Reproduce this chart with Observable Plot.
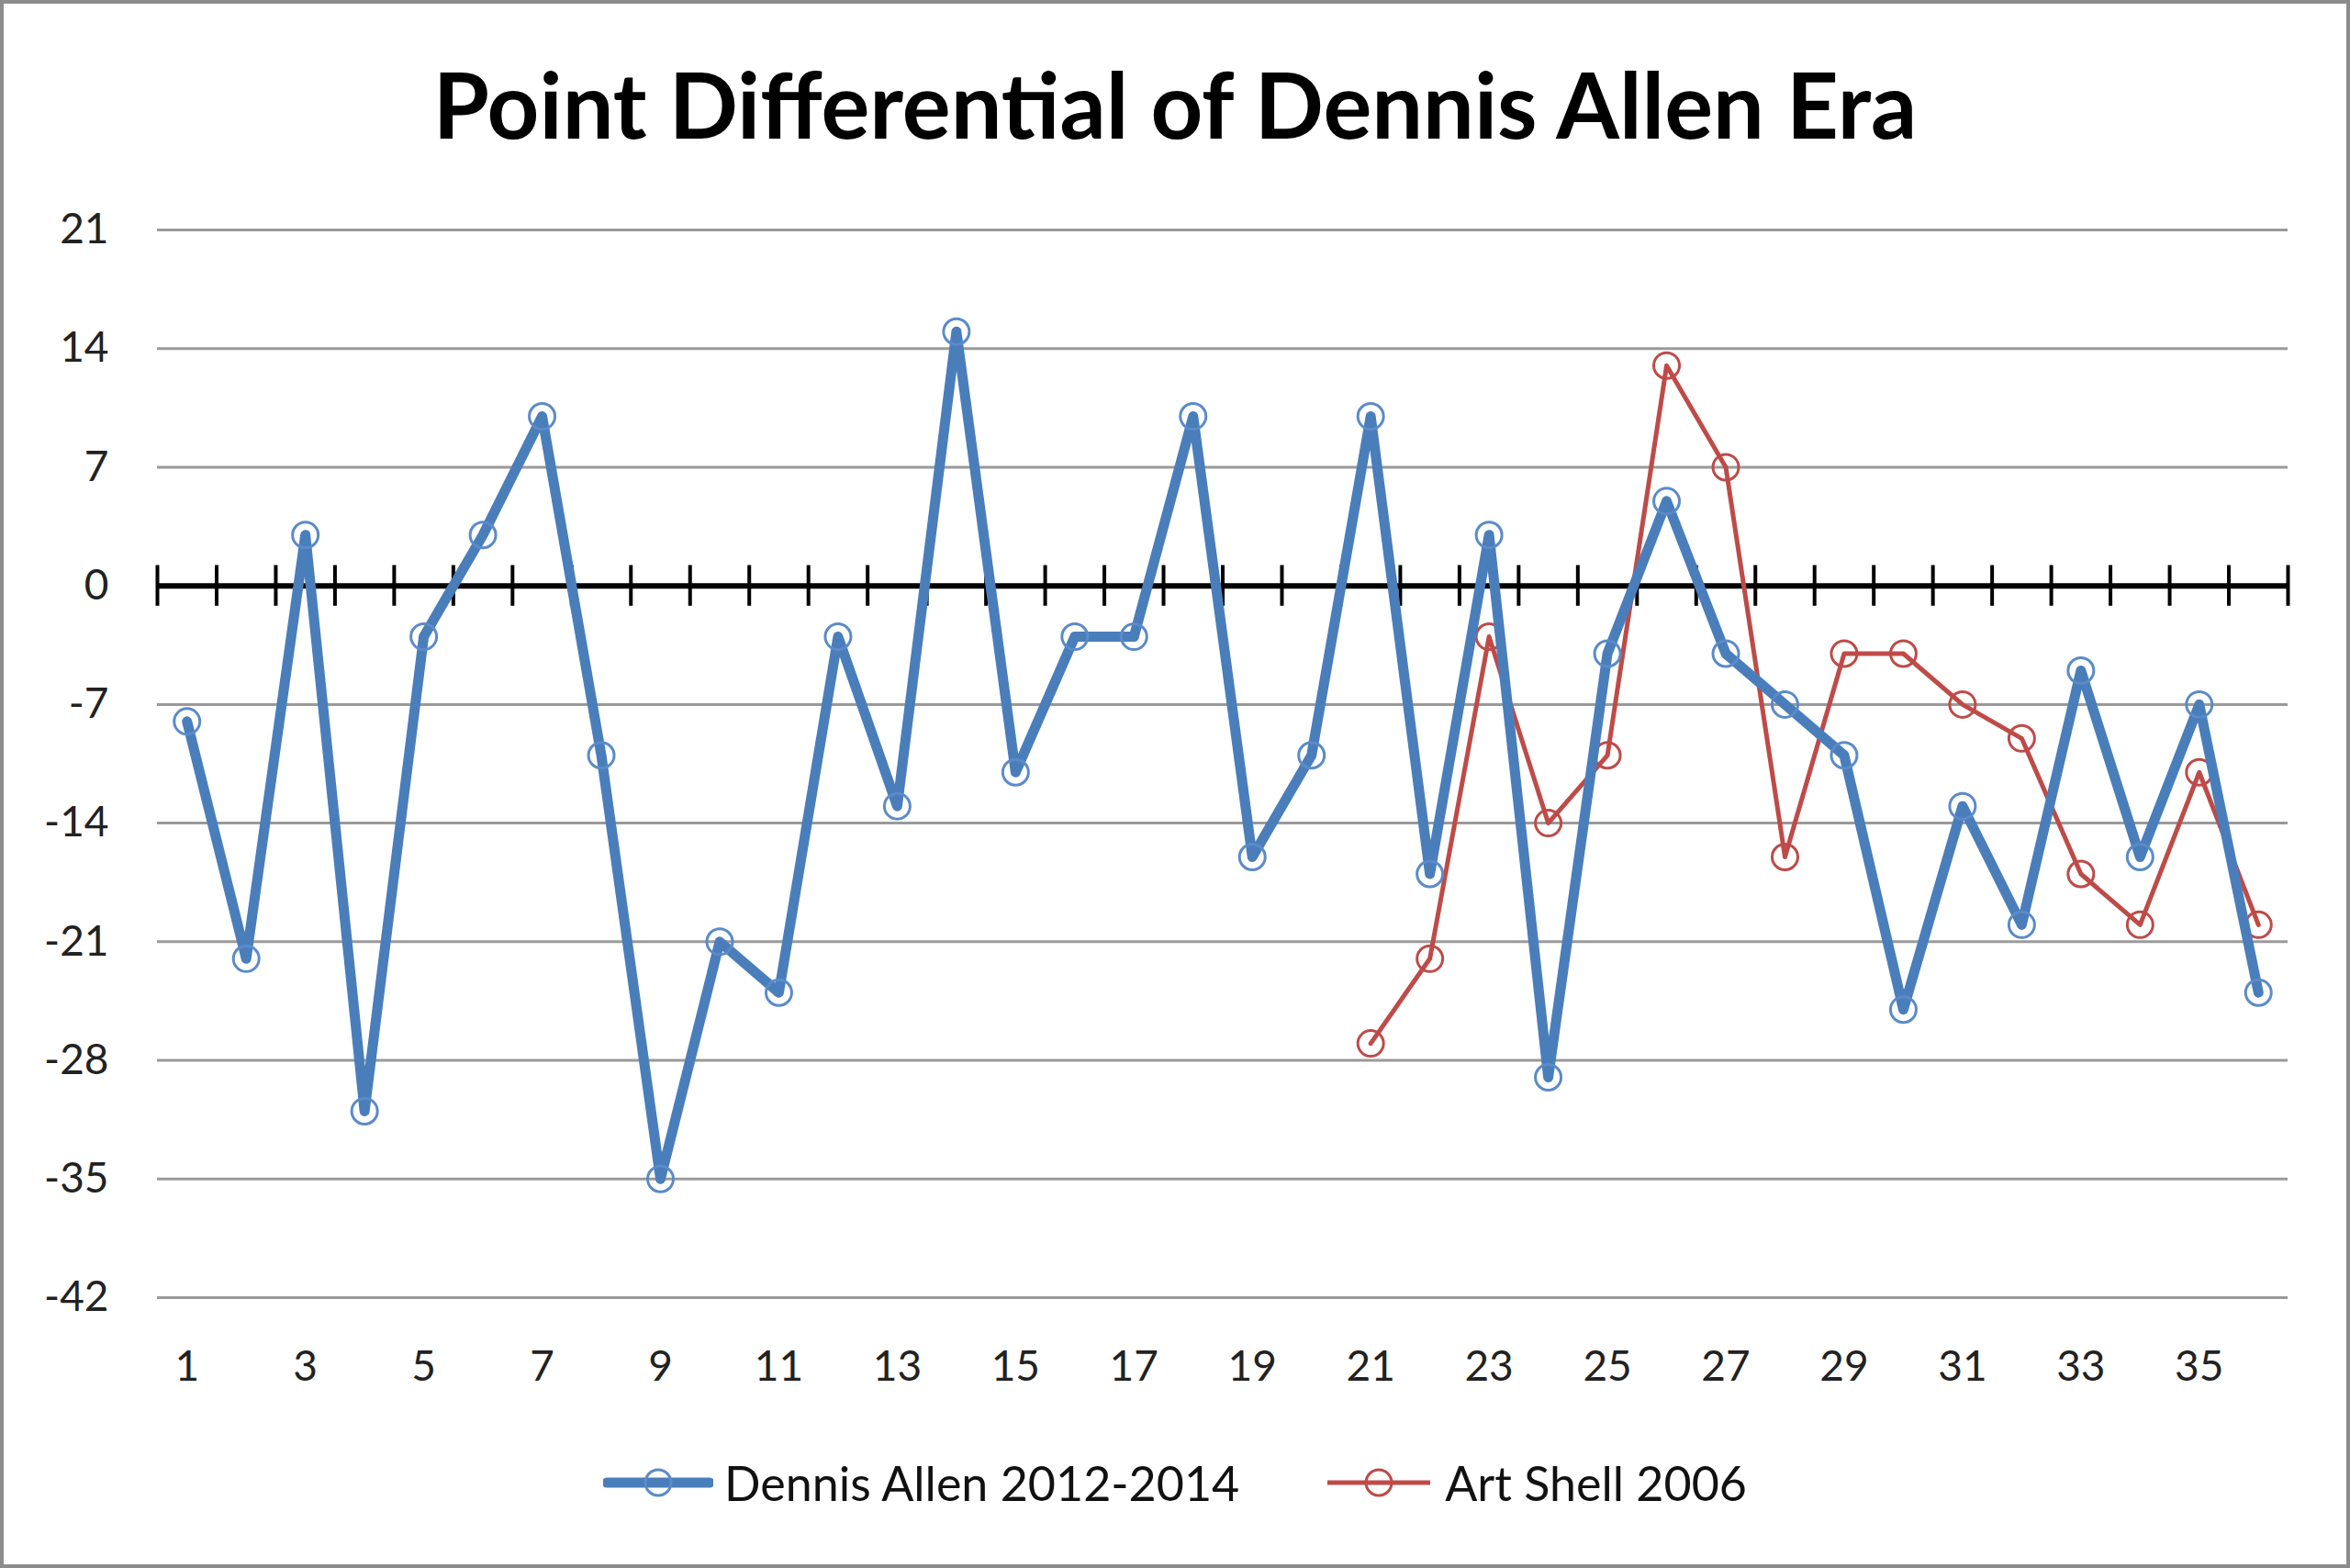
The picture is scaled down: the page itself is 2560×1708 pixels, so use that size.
<!DOCTYPE html>
<html>
<head>
<meta charset="utf-8">
<script src="https://cdn.jsdelivr.net/npm/d3@7"></script>
<script src="https://cdn.jsdelivr.net/npm/@observablehq/plot@0.6"></script>
<style>
  html, body { margin: 0; padding: 0; background: #fff; }
  #frame { position: relative; width: 2560px; height: 1708px; box-sizing: border-box; border: 4px solid #8c8c8c; background: #fff; overflow: hidden; font-family: Lato, "Open Sans", sans-serif; }
  #title { position: absolute; left: 0; top: 34px; width: 100%; height: 150px; line-height: 150px; text-align: center; font-weight: 700; font-size: 99px; color: #000; }
  #chart { position: absolute; left: 0; top: 190px; }
  #legend { position: absolute; left: 0; top: 1573px; width: 100%; height: 76px; display: flex; justify-content: center; align-items: center; gap: 92px; font-size: 52px; color: #111; }
  .item { display: flex; align-items: center; gap: 12px; }
</style>
</head>
<body>
<div id="frame">
  <div id="title">Point Differential of Dennis Allen Era</div>
  <div id="chart"></div>
  <div id="legend">
    <div class="item">
      <svg width="120" height="40"><line x1="4" y1="20" x2="116" y2="20" stroke="#4a7ebb" stroke-width="11" stroke-linecap="round"/><circle cx="60" cy="20" r="14" fill="none" stroke="#5b8bc9" stroke-width="3"/></svg>
      <span>Dennis Allen 2012-2014</span>
    </div>
    <div class="item">
      <svg width="120" height="40"><line x1="4" y1="20" x2="116" y2="20" stroke="#be4b48" stroke-width="5"/><circle cx="60" cy="20" r="14" fill="none" stroke="#be4b48" stroke-width="3"/></svg>
      <span>Art Shell 2006</span>
    </div>
  </div>
</div>
<script>
// Game number (category)
const allenGames = [1,2,3,4,5,6,7,8,9,10,11,12,13,14,15,16,17,18,19,20,21,22,23,24,25,26,27,28,29,30,31,32,33,34,35,36];
const allenValues = [-8,-22,3,-31,-3,3,10,-10,-35,-21,-24,-3,-13,15,-11,-3,-3,10,-16,-10,10,-17,3,-29,-4,5,-4,-7,-10,-25,-13,-20,-5,-16,-7,-24];
const shellGames = [21,22,23,24,25,26,27,28,29,30,31,32,33,34,35,36];
const shellValues = [-27,-22,-3,-14,-10,13,7,-16,-4,-4,-7,-9,-17,-20,-11,-20];
const yTicks = [21,14,7,0,-7,-14,-21,-28,-35,-42];
const xTickLabels = [1,3,5,7,9,11,13,15,17,19,21,23,25,27,29,31,33,35];

const allen = allenGames.map((g, i) => ({game: g, value: allenValues[i]}));
const shell = shellGames.map((g, i) => ({game: g, value: shellValues[i]}));
const boundaries = [allenGames[0] - 0.5, ...allenGames.map(g => g + 0.5)];

const blue = "#4a7ebb";
const blueMarker = "#5b8bc9";
const red = "#be4b48";

const chart = Plot.plot({
  width: 2552,
  height: 1350,
  marginTop: 56,
  marginLeft: 167,
  marginRight: 64,
  marginBottom: 131,
  style: {fontFamily: "Lato, 'Open Sans', sans-serif", fontSize: "46px", color: "#222", background: "#fff"},
  x: {domain: [boundaries[0], boundaries[boundaries.length - 1]], ticks: xTickLabels, tickFormat: d => String(d)},
  y: {domain: [-42, 21], ticks: yTicks, tickFormat: d => String(d)},
  marks: [
    Plot.ruleY(yTicks.filter(d => d !== 0), {stroke: "#9a9a9a", strokeWidth: 3}),
    Plot.axisY({ticks: yTicks, tickSize: 0, tickPadding: 53, label: null, tickFormat: d => String(d)}),
    Plot.axisX({ticks: xTickLabels, tickSize: 0, tickPadding: 58, label: null, tickFormat: d => String(d)}),
    Plot.ruleY([0], {stroke: "#000", strokeWidth: 6}),
    Plot.ruleX(boundaries, {x: d => d, y1: -1.2, y2: 1.2, stroke: "#000", strokeWidth: 4}),
    Plot.line(shell, {x: "game", y: "value", stroke: red, strokeWidth: 5}),
    Plot.dot(shell, {x: "game", y: "value", r: 14, stroke: red, strokeWidth: 3, fill: "none"}),
    Plot.line(allen, {x: "game", y: "value", stroke: blue, strokeWidth: 11, strokeLinejoin: "round"}),
    Plot.dot(allen, {x: "game", y: "value", r: 14, stroke: blueMarker, strokeWidth: 3, fill: "none"})
  ]
});
document.getElementById("chart").appendChild(chart);
</script>
</body>
</html>
